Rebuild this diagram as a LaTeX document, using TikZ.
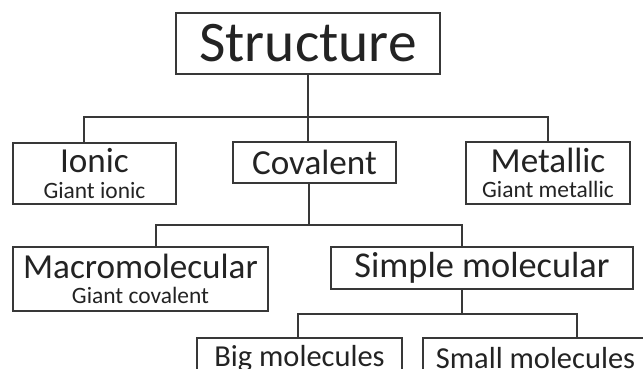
\documentclass[tikz,border=0pt]{standalone}
\usepackage{fontspec}
\setmainfont{Carlito}
\usepackage{tikz}
\definecolor{inkgray}{HTML}{232323}
\definecolor{linegray}{HTML}{383838}
\usetikzlibrary{positioning, calc}
\newcommand{\subline}[1]{{\fontsize{20}{21.5}\selectfont #1}}

\begin{document}
\begin{tikzpicture}[x=0.03cm, y=-0.03cm]
                    \tikzstyle{every node}=[text=inkgray, font=\fontsize{30}{21.5}\selectfont]
                    \tikzstyle{box} = [rectangle, draw=linegray, line width=1.2pt, fill=white, inner sep=0pt, align=center]
                    \tikzstyle{leaf} = [box, font=\fontsize{26}{26}\selectfont, minimum height=1.23cm]
                    \tikzstyle{link} = [draw=linegray, line width=1.2pt]

                    \clip (0,0) rectangle (643,369);
                    \fill[white] (0,0) rectangle (643,369);

                    \node[box, minimum width=7.92cm, minimum height=1.83cm, font=\fontsize{49}{49}\selectfont](struct) at (308,43.5) {Structure};
                    \node[box, minimum width=4.89cm, minimum height=1.83cm](ionic) at (94.5,173.5) {Ionic\\\subline{Giant ionic}};
                    \node[box, minimum width=4.89cm, minimum height=1.23cm](covalent) at (314.5,162.5) {Covalent};
                    \node[box, minimum width=4.92cm, minimum height=1.86cm](metallic) at (548,173) {Metallic\\\subline{Giant metallic}};
                    \node[box, minimum width=7.65cm, minimum height=1.92cm](macro) at (140.5,279) {Macromolecular\\\subline{Giant covalent}};
                    \node[box, minimum width=9.06cm, minimum height=1.26cm, font=\fontsize{31}{31}\selectfont](simple) at (482,268) {Simple molecular};
                    \node[leaf, minimum width=6.15cm](bigmol) at (299.5,358.5) {Big molecules};
                    \node[leaf, minimum width=6.75cm](smallmol) at (535.5,358.5) {Small molecules};

                    \coordinate (bus1) at (308,117);
                    \coordinate (bus2) at (309,225);
                    \coordinate (bus3) at (462,314);

                    \draw[link] (struct.south) -- (bus1);
                    \draw[link] ($(ionic.north)+(-10.5,0)$) |- (bus1) -| (metallic.north);
                    \draw[link] (bus1) -- (bus1 |- covalent.north);
                    \draw[link] (bus2 |- covalent.south) -- (bus2);
                    \draw[link] ($(macro.north)+(15.5,0)$) |- (bus2) -| ($(simple.north)+(-20,0)$);
                    \draw[link] (bus3 |- simple.south) -- (bus3);
                    \draw[link] ($(bigmol.north)+(-1.5,0)$) |- (bus3) -| ($(smallmol.north)+(41.5,0)$);
            \end{tikzpicture}
\end{document}
